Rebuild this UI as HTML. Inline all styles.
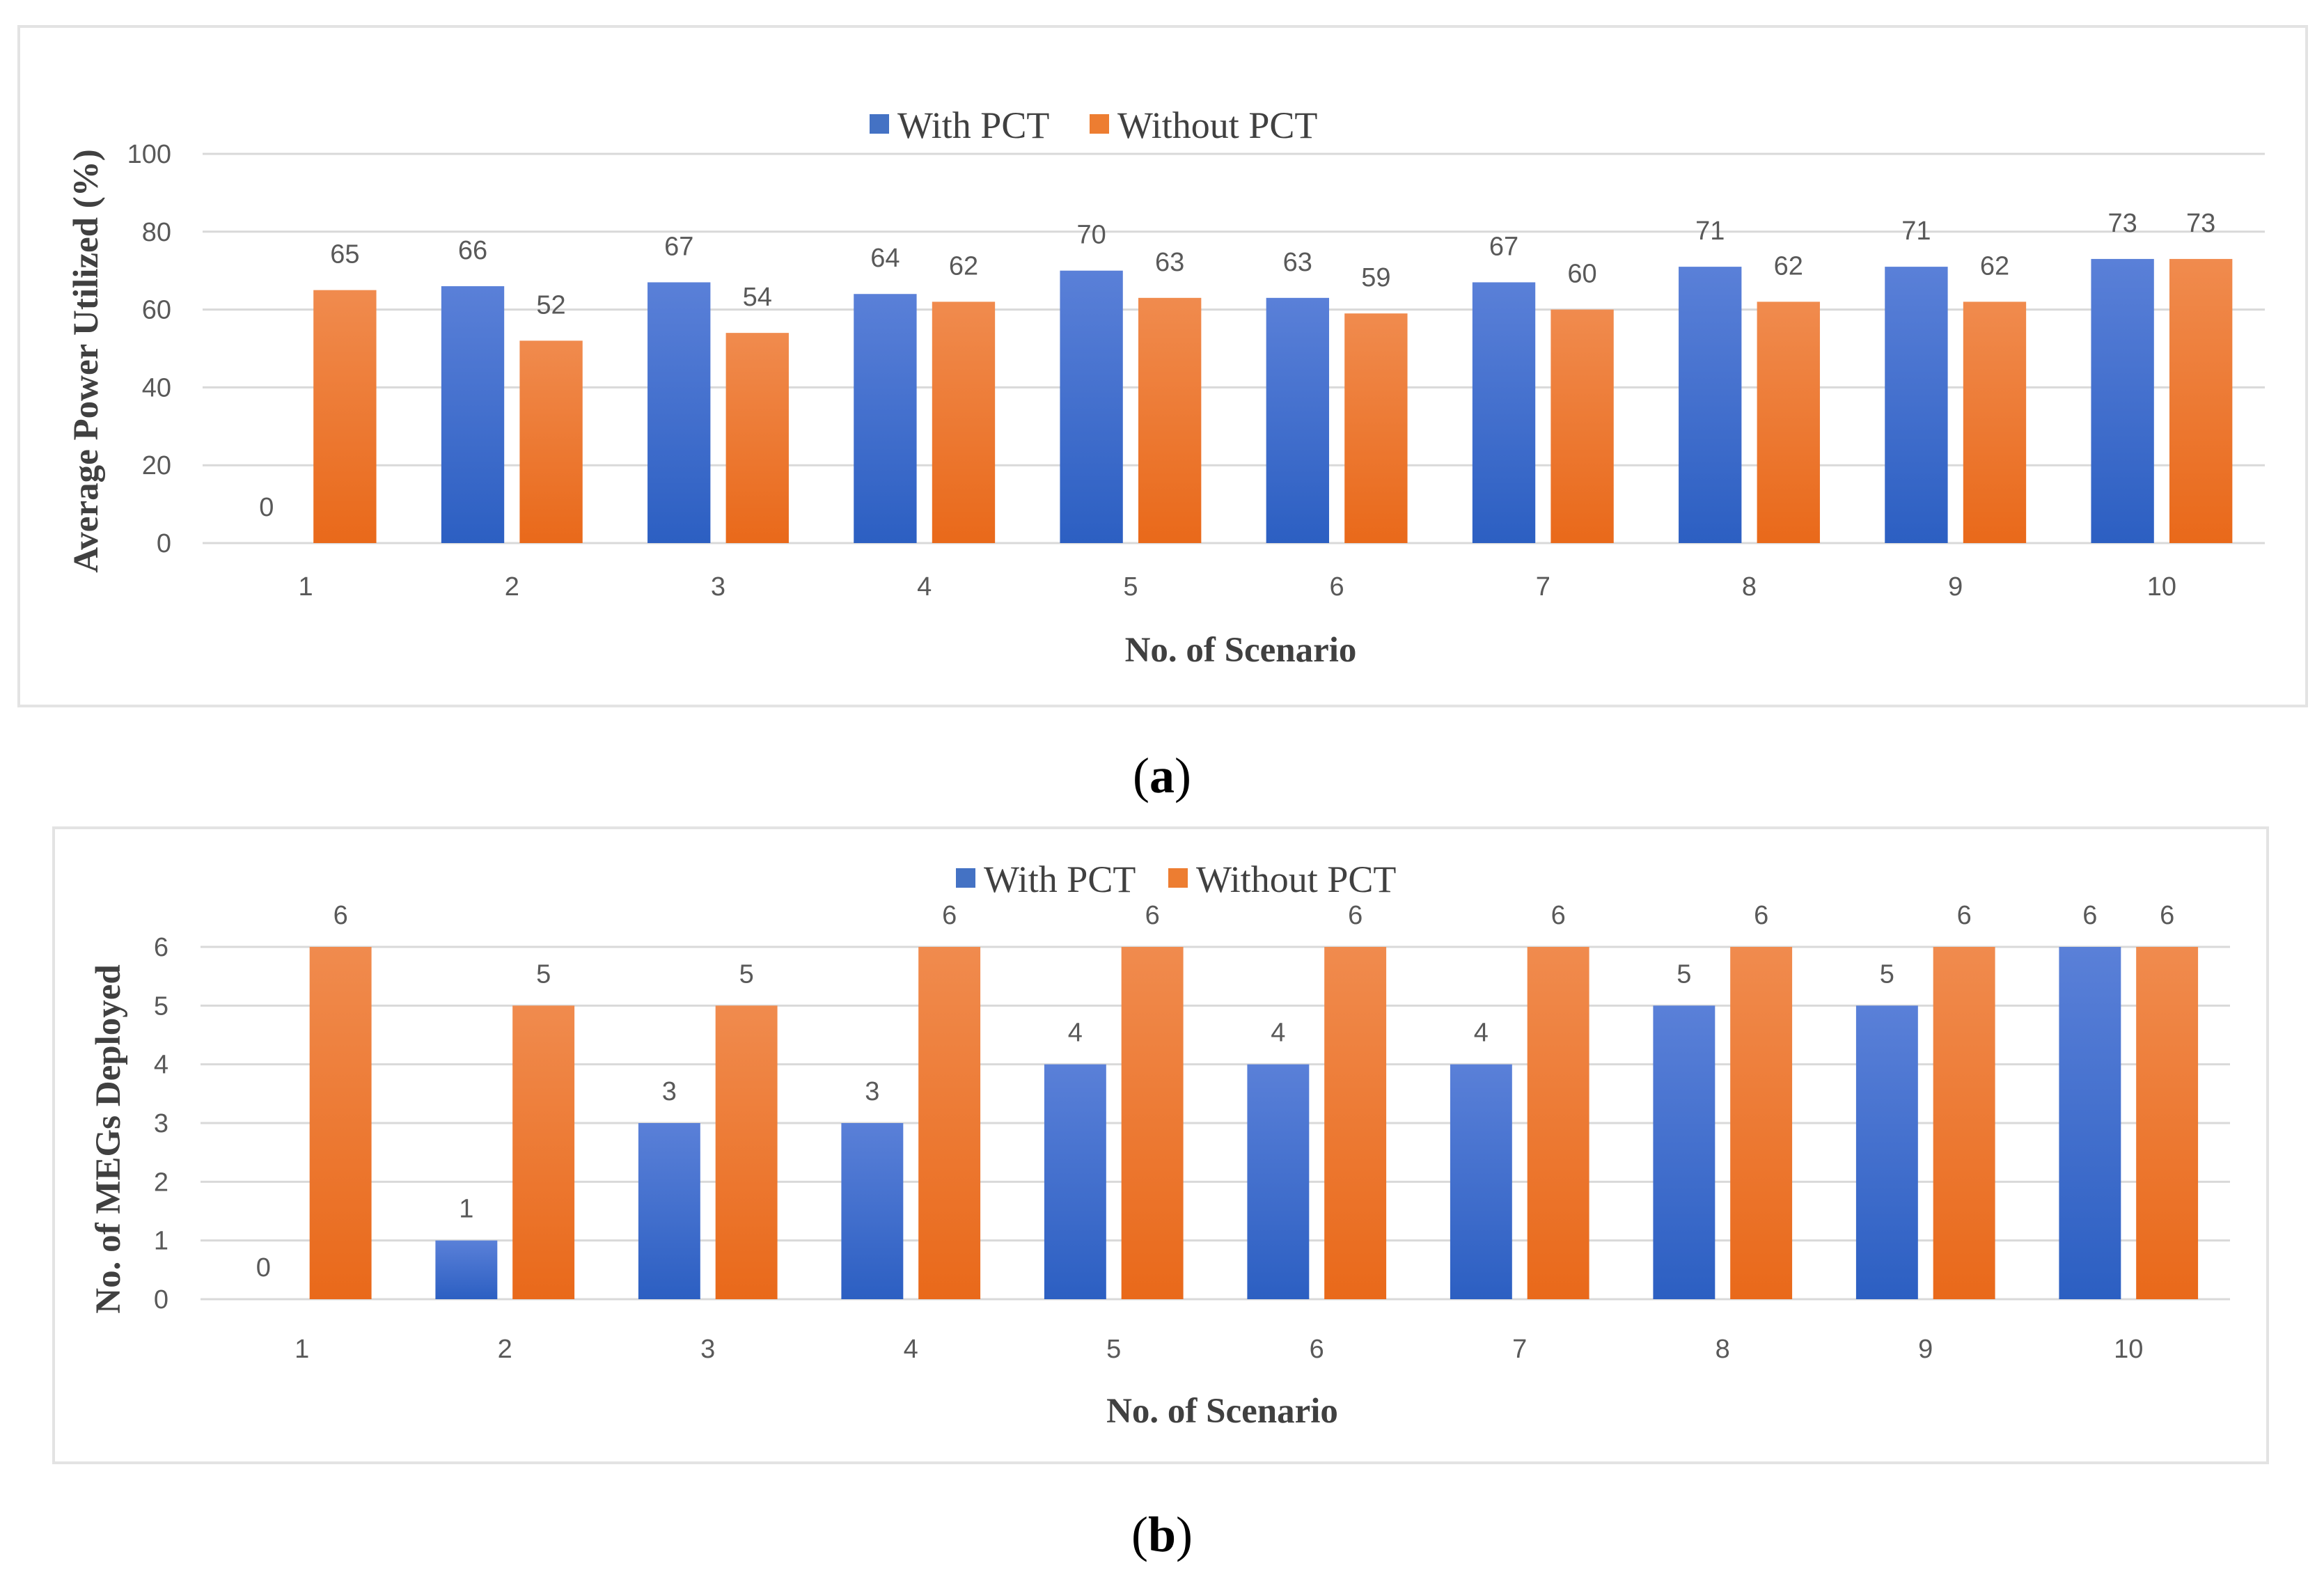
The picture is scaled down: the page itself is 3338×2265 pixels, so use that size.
<!DOCTYPE html>
<html><head><meta charset="utf-8">
<style>
html,body{margin:0;padding:0;background:#fff;}
svg{display:block;}
.tick{font-family:"Liberation Sans",sans-serif;font-size:38px;fill:#595959;}
.val{font-family:"Liberation Sans",sans-serif;font-size:38px;fill:#595959;text-anchor:middle;}
.leg{font-family:"Liberation Serif",serif;font-size:54px;fill:#404040;}
.ttl{font-family:"Liberation Serif",serif;font-size:51px;font-weight:bold;fill:#404040;}
.cap{font-family:"Liberation Serif",serif;font-size:72px;fill:#000;}
</style></head>
<body>
<svg id="svg" width="3338" height="2265" viewBox="0 0 3338 2265" xmlns="http://www.w3.org/2000/svg">
<defs>
<linearGradient id="gb" x1="0" y1="0" x2="0" y2="1"><stop offset="0" stop-color="#5a80d8"/><stop offset="1" stop-color="#2c5fc2"/></linearGradient>
<linearGradient id="go" x1="0" y1="0" x2="0" y2="1"><stop offset="0" stop-color="#f08b4e"/><stop offset="1" stop-color="#e9691a"/></linearGradient>
</defs>
<rect x="27" y="38" width="3286" height="976" fill="#fff" stroke="#e3e3e3" stroke-width="4"/>
<rect x="77" y="1189" width="3180" height="912" fill="#fff" stroke="#e3e3e3" stroke-width="4"/>
<g id="ga"></g>
<g id="gb2"></g>
<text class="cap" x="1669" y="1138" text-anchor="middle">(<tspan font-weight="bold">a</tspan>)</text>
<text class="cap" x="1669" y="2228" text-anchor="middle">(<tspan font-weight="bold">b</tspan>)</text>
</svg>
<script>
const categories = ['1','2','3','4','5','6','7','8','9','10'];
const powerWith = [0,66,67,64,70,63,67,71,71,73];
const powerWithout = [65,52,54,62,63,59,60,62,62,73];
const powerTicks = [0,20,40,60,80,100];
const megWith = [0,1,3,3,4,4,4,5,5,6];
const megWithout = [6,5,5,6,6,6,6,6,6,6];
const megTicks = [0,1,2,3,4,5,6];

const NS='http://www.w3.org/2000/svg';
function mk(parent,tag,attrs,text){const e=document.createElementNS(NS,tag);for(const k in attrs)e.setAttribute(k,attrs[k]);if(text!==undefined)e.textContent=text;parent.appendChild(e);return e;}

function drawChart(g,cfg){
  const {left,right,top,bottom,max,ticks,s1,s2,yTitle,yTitleX,yTitleShift,legY,leg1X,leg2X,xTitleY,tickLabelRight,catLabelY,labelGap}=cfg;
  const n=categories.length, step=(right-left)/n, bw=step*0.305, off=step*0.19;
  const y=v=>bottom-(v/max)*(bottom-top);
  const cx=i=>left+step*(i+0.5);
  ticks.forEach(t=>{
    const l=mk(g,'line',{x1:left,x2:right,y1:y(t),y2:y(t),stroke:'#d9d9d9','stroke-width':3});
    
    
    const tx=mk(g,'text',{class:'tick',x:tickLabelRight,y:y(t)+13,'text-anchor':'end'},String(t));
    
    
  });
  categories.forEach((c,i)=>{
    [[s1[i],-off,'url(#gb)','with'],[s2[i],off,'url(#go)','without']].forEach(([v,o,f,nm])=>{
      const x=cx(i)+o-bw/2;
      if(v>0){
        const r=mk(g,'rect',{x:x,y:y(v),width:bw,height:bottom-y(v),fill:f});
        
        
      }
      const t=mk(g,'text',{class:'val',x:cx(i)+o,y:y(v)-labelGap},String(v));
      
      
    });
    const t=mk(g,'text',{class:'tick',x:cx(i),y:catLabelY,'text-anchor':'middle'},c);
    
    
  });
  const midY=(top+bottom)/2+yTitleShift;
  const yt=mk(g,'text',{class:'ttl',x:yTitleX,y:midY,'text-anchor':'middle',transform:`rotate(-90 ${yTitleX} ${midY})`},yTitle);
  
  
  const xt=mk(g,'text',{class:'ttl',x:(left+right)/2+10,y:xTitleY,'text-anchor':'middle'},'No. of Scenario');
  
  
  const r1=mk(g,'rect',{x:leg1X,y:legY-34,width:28,height:28,fill:'#4472c4'});
  
  
  const l1=mk(g,'text',{class:'leg',x:leg1X+40,y:legY},'With PCT');
  
  
  const r2=mk(g,'rect',{x:leg2X,y:legY-34,width:28,height:28,fill:'#ed7d31'});
  
  
  const l2=mk(g,'text',{class:'leg',x:leg2X+40,y:legY},'Without PCT');
  
  
}
drawChart(document.getElementById('ga'),{left:291,right:3253,top:221,bottom:780,max:100,ticks:powerTicks,s1:powerWith,s2:powerWithout,
  yTitle:'Average Power Utilized (%)',yTitleX:140,yTitleShift:18,legY:198,leg1X:1249,leg2X:1565,xTitleY:950,tickLabelRight:246,catLabelY:855,labelGap:39});
drawChart(document.getElementById('gb2'),{left:288,right:3203,top:1360,bottom:1866,max:6,ticks:megTicks,s1:megWith,s2:megWithout,
  yTitle:'No. of MEGs Deployed',yTitleX:172,yTitleShift:23,legY:1281,leg1X:1373,leg2X:1678,xTitleY:2043,tickLabelRight:242,catLabelY:1950,labelGap:33});
</script>
</body></html>
